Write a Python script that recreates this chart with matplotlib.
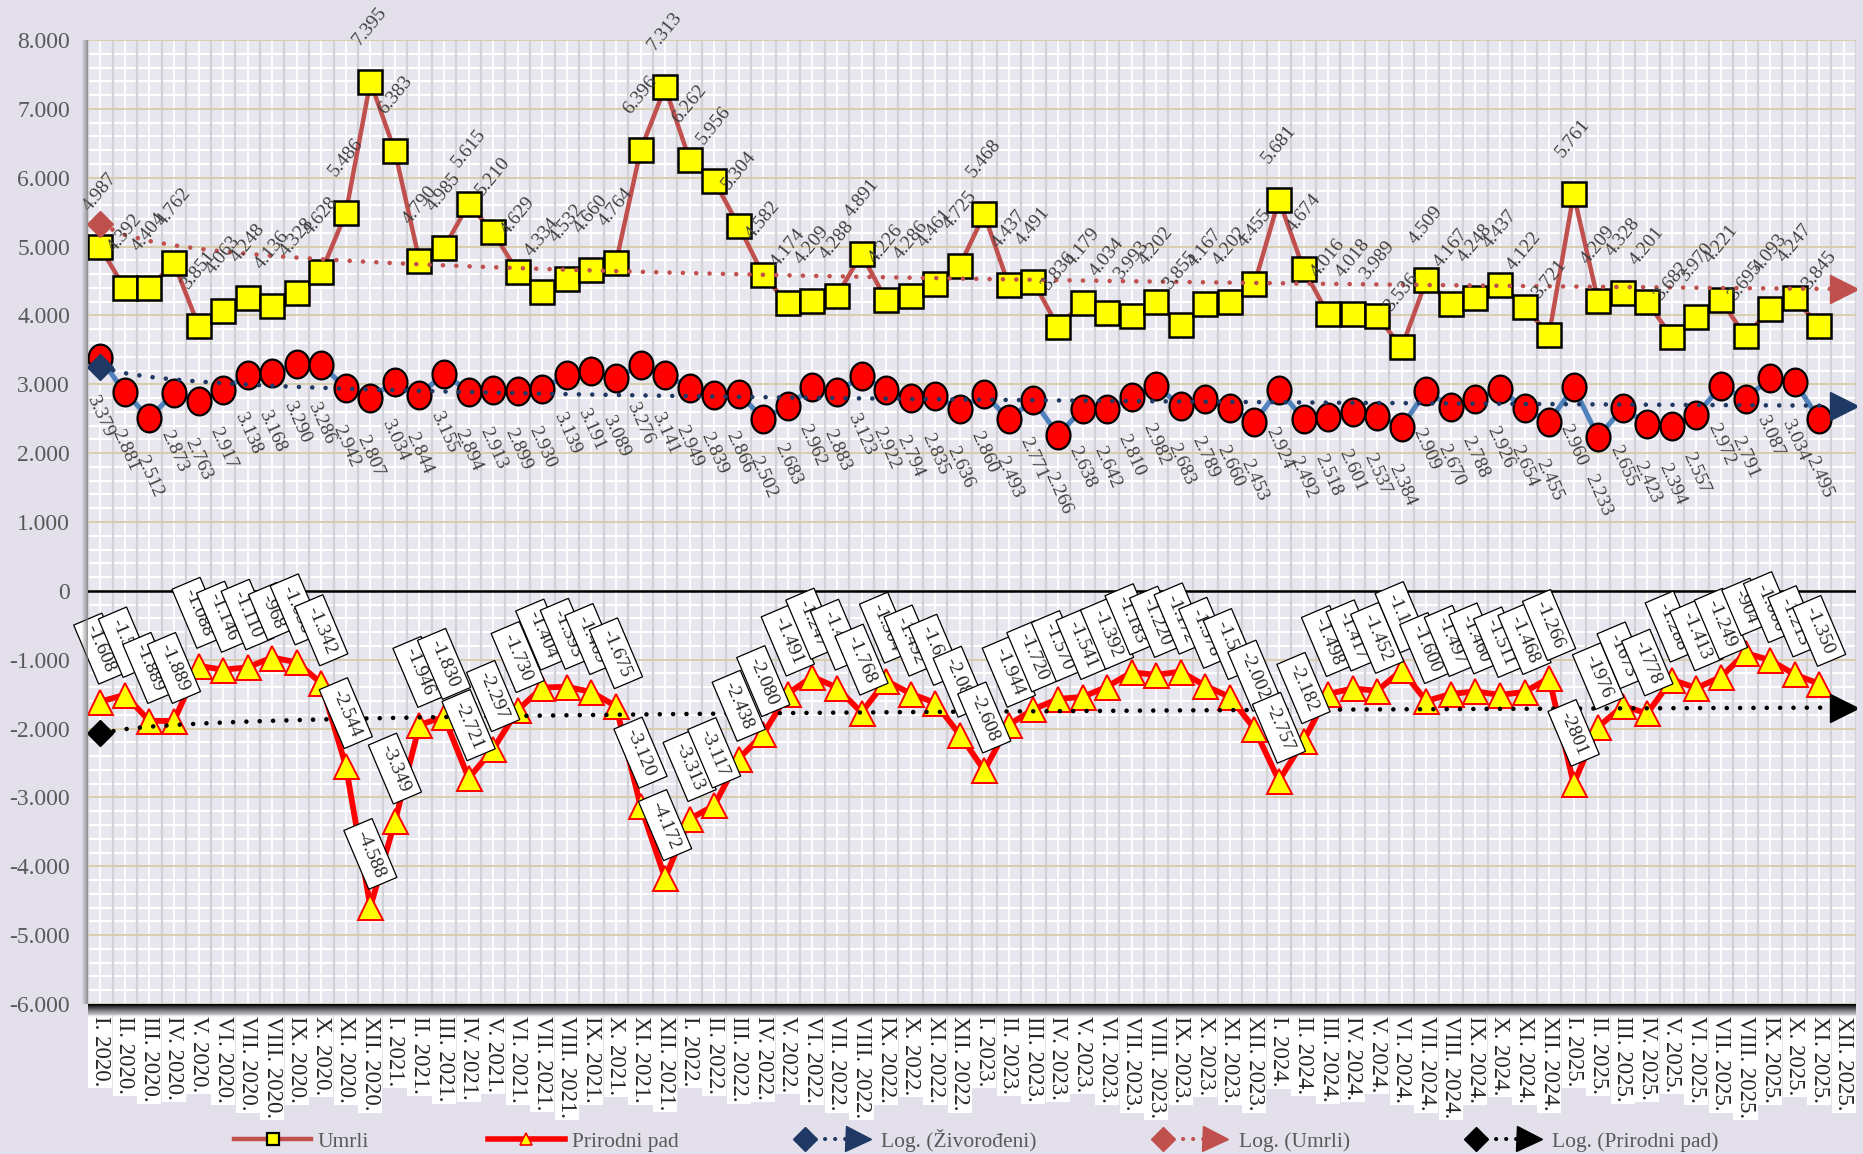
import numpy as np
import matplotlib.pyplot as plt
from matplotlib.lines import Line2D
from matplotlib.path import Path
from matplotlib.legend_handler import HandlerBase

plt.rcParams['font.family'] = ['Liberation Serif', 'DejaVu Serif']

# Monthly data, I.2020 - XI.2025
months = ['I.', 'II.', 'III.', 'IV.', 'V.', 'VI.', 'VII.', 'VIII.', 'IX.', 'X.', 'XI.', 'XII.']
years = [2020, 2021, 2022, 2023, 2024, 2025]
tick_labels = [f'{m} {y}.' for y in years for m in months]

births = [3379, 2881, 2512, 2873, 2763, 2917, 3138, 3168, 3290, 3286, 2942, 2807,
          3034, 2844, 3155, 2894, 2913, 2899, 2930, 3139, 3191, 3089, 3276, 3141,
          2949, 2839, 2866, 2502, 2683, 2962, 2883, 3123, 2922, 2794, 2835, 2636,
          2860, 2493, 2771, 2266, 2638, 2642, 2810, 2982, 2683, 2789, 2660, 2453,
          2924, 2492, 2518, 2601, 2537, 2384, 2909, 2670, 2788, 2926, 2654, 2455,
          2960, 2233, 2655, 2423, 2394, 2557, 2972, 2791, 3087, 3034, 2495]

deaths = [4987, 4392, 4404, 4762, 3851, 4063, 4248, 4136, 4328, 4628, 5486, 7395,
          6383, 4790, 4985, 5615, 5210, 4629, 4334, 4532, 4660, 4764, 6396, 7313,
          6262, 5956, 5304, 4582, 4174, 4209, 4288, 4891, 4226, 4286, 4461, 4725,
          5468, 4437, 4491, 3836, 4179, 4034, 3993, 4202, 3855, 4167, 4202, 4455,
          5681, 4674, 4016, 4018, 3989, 3536, 4509, 4167, 4248, 4437, 4122, 3721,
          5761, 4209, 4328, 4201, 3682, 3970, 4221, 3695, 4093, 4247, 3845]

natural = [-1608, -1511, -1889, -1889, -1088, -1146, -1110, -968, -1038, -1342, -2544, -4588,
           -3349, -1946, -1830, -2721, -2297, -1730, -1404, -1393, -1469, -1675, -3120, -4172,
           -3313, -3117, -2438, -2080, -1491, -1247, -1405, -1768, -1304, -1492, -1626, -2089,
           -2608, -1944, -1720, -1570, -1541, -1392, -1183, -1220, -1172, -1378, -1542, -2002,
           -2757, -2182, -1498, -1417, -1452, -1152, -1600, -1497, -1460, -1511, -1468, -1266,
           -2801, -1976, -1673, -1778, -1288, -1413, -1249, -904, -1006, -1213, -1350]

# labels in the original shown without thousands separator
plain_labels = [60, 61, 62, 63]

y_ticks = list(range(-6000, 8001, 1000))


def fmt(v, sep=True):
    s = f'{abs(v):,}'.replace(',', '.') if sep else str(abs(v))
    return ('-' if v < 0 else '') + s


W, H = 1863, 1154
fig = plt.figure(figsize=(W / 100, H / 100), dpi=100, facecolor='#E4E0EB')
L, B, AW, AH = 88 / W, 150 / H, 1768 / W, 964 / H
ax = fig.add_axes([L, B, AW, AH], facecolor='#E8E6EE')

n_cat = len(tick_labels)
x = np.arange(len(births))
ax.set_xlim(-0.5, n_cat - 0.5)
ax.set_ylim(-6000, 8000)

# plot area pattern
for k in range(n_cat + 1):
    ax.axvline(k - 0.5, color='#D2D2D6', lw=1.6, zorder=0.5)
for k in range(n_cat):
    ax.axvline(k, color='white', lw=1.3, zorder=0.4)
for v in range(-6000, 8001, 200):
    if v % 1000:
        ax.axhline(v, color='white', lw=1.6, zorder=0.4)
    else:
        ax.axhline(v, color='#D6CCA8', lw=1.3, zorder=0.6)
ax.axhline(0, color='black', lw=1.8, zorder=1)

for s in ax.spines.values():
    s.set_visible(False)

# series
ell = Path.unit_circle().transformed(plt.matplotlib.transforms.Affine2D().scale(0.86, 1.0))
ax.plot(x, births, color='#4F81BD', lw=3.6, marker=ell, ms=20, mfc='#FF0000',
        mec='black', mew=1.6, zorder=3)
ax.plot(x, deaths, color='#C0504D', lw=3.2, marker='s', ms=17, mfc='#FFFF00',
        mec='black', mew=1.8, zorder=3)
ax.plot(x, natural, color='#FF0000', lw=4.2, marker='^', ms=18, mfc='#FFFF00',
        mec='#FF0000', mew=1.4, zorder=3)

# logarithmic trendlines, one period forward
xt = np.arange(n_cat)
trends = [(births, '#1F3864'), (deaths, '#C0504D'), (natural, 'black')]
for data, c in trends:
    a, b = np.polyfit(np.log(x + 1), data, 1)
    yt = a * np.log(xt + 1) + b
    ax.plot(xt, yt, color=c, lw=3.3, linestyle=(0, (0.01, 2.9)),
            dash_capstyle='round', zorder=4)
    ax.plot(xt, yt, color=c, lw=0, marker='D', ms=13, markevery=[0], zorder=4)
    ax.plot(xt, yt, color=c, lw=0, marker='>', ms=20, markevery=[n_cat - 1], zorder=4)

# data labels
for i, v in enumerate(deaths):
    ax.annotate(fmt(v), (i, v), xytext=(0, 24), textcoords='offset points',
                ha='center', va='bottom', rotation=51, fontsize=14,
                color='#404040', zorder=6)
for i, v in enumerate(births):
    ax.annotate(fmt(v), (i, v), xytext=(0, -25), textcoords='offset points',
                ha='center', va='top', rotation=-66, fontsize=14,
                color='#404040', zorder=6)
for i, v in enumerate(natural):
    ax.annotate(fmt(v, i not in plain_labels), (i, v), xytext=(0, 19),
                textcoords='offset points', ha='center', va='bottom',
                rotation=-67, fontsize=14, color='#262626', zorder=7,
                bbox=dict(boxstyle='square,pad=0.35', fc='white', ec='black', lw=0.9))

# axes ticks
ax.set_yticks(y_ticks)
ax.set_yticklabels([fmt(v) for v in y_ticks], fontsize=17, color='#595959')
ax.set_xticks(np.arange(n_cat))
ax.set_xticklabels(tick_labels, rotation=270, fontsize=16.5, color='#262626')
ax.tick_params(axis='y', length=0, pad=13)
ax.tick_params(axis='x', length=0, pad=9)
for lbl in ax.get_xticklabels():
    lbl.set_bbox(dict(facecolor='white', edgecolor='none', pad=1.2))

# shadows below and left of plot area
sh = 14
rgba = np.zeros((sh, 1, 4))
rgba[:, 0, 3] = np.linspace(1.0, 0.0, sh) ** 1.3
ax_b = fig.add_axes([L, B - sh / H, AW, sh / H])
ax_b.imshow(rgba, aspect='auto', interpolation='bilinear')
ax_b.axis('off')
sw = 7
rgba_l = np.zeros((1, sw, 4))
rgba_l[0, :, :3] = 0.45
rgba_l[0, :, 3] = np.linspace(0.0, 0.7, sw)
ax_l = fig.add_axes([L - sw / W, B, sw / W, AH])
ax_l.imshow(rgba_l, aspect='auto', interpolation='bilinear')
ax_l.axis('off')


class TrendHandler(HandlerBase):
    def create_artists(self, legend, orig_handle, xdescent, ydescent, width,
                       height, fontsize, trans):
        c = orig_handle.get_color()
        y = height / 2 - ydescent
        x0, x1 = -xdescent + 6, -xdescent + width - 12
        dots = Line2D([x0, x1], [y, y], color=c, lw=3, linestyle=(0, (0.01, 2.4)),
                      dash_capstyle='round', transform=trans)
        start = Line2D([x0], [y], marker='D', ms=12, color=c, lw=0, transform=trans)
        end = Line2D([x1], [y], marker='>', ms=18, color=c, lw=0, transform=trans)
        return [dots, start, end]


h_umrli = Line2D([], [], color='#C0504D', lw=3.2, marker='s', ms=9,
                 mfc='#FFFF00', mec='black', mew=1.6)
h_pad = Line2D([], [], color='#FF0000', lw=4, marker='^', ms=9,
               mfc='#FFFF00', mec='#FF0000', mew=1.2)
h_tb = Line2D([], [], color='#1F3864')
h_td = Line2D([], [], color='#C0504D')
h_tn = Line2D([], [], color='black')
trend_handler = TrendHandler()
fig.legend([h_umrli, h_pad, h_tb, h_td, h_tn],
           ['Umrli', 'Prirodni pad', 'Log. (Živorođeni)', 'Log. (Umrli)', 'Log. (Prirodni pad)'],
           loc='center', bbox_to_anchor=(0.524, 0.012), ncol=5, frameon=False,
           fontsize=15.5, labelcolor='#595959', handlelength=3.6, handletextpad=0.3,
           columnspacing=5.5, numpoints=1,
           handler_map={h_tb: trend_handler, h_td: trend_handler, h_tn: trend_handler})

fig.savefig('out.png', dpi=100, facecolor=fig.get_facecolor())
